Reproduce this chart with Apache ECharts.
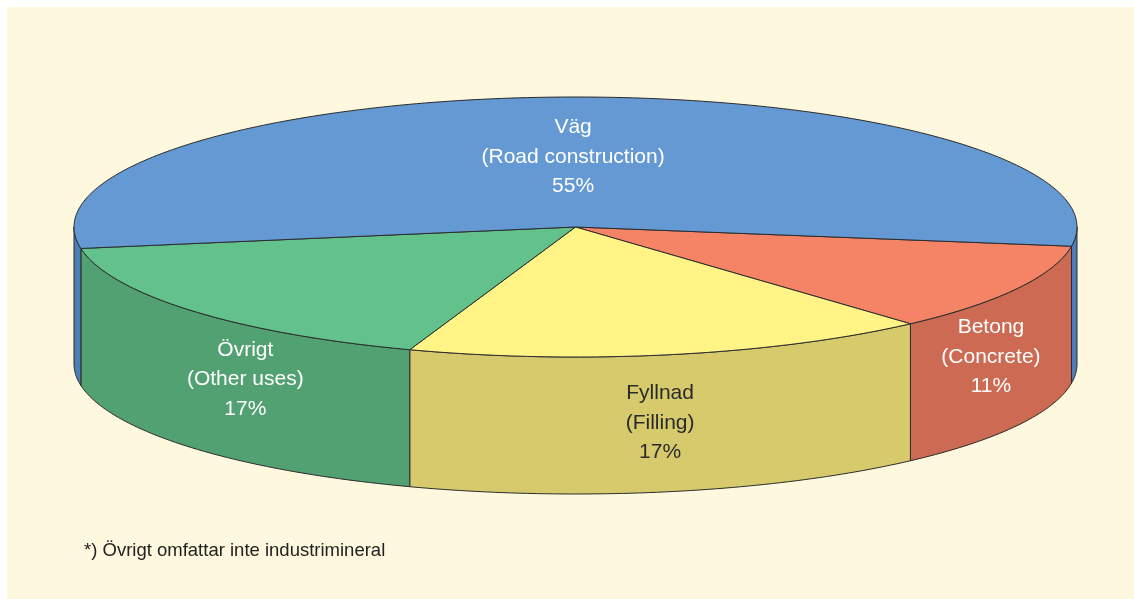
<!DOCTYPE html>
<html>
<head>
<meta charset="utf-8">
<title>Ballast - användning</title>
<script src="https://cdn.jsdelivr.net/npm/echarts@6/dist/echarts.min.js"></script>
<style>
    html, body { margin: 0; padding: 0; background: #ffffff; }
    #panel { position: absolute; left: 7px; top: 7px; right: 0; bottom: 0; background: #fef8de; }
    #main { position: absolute; left: 0; top: 0; width: 1134px; height: 599px; }
</style>
</head>
<body>
<div id="panel"></div>
<div id="main"></div>
<script type="text/javascript">
    // data, in drawing order (clockwise from just below the right edge)
    var names = ['Betong', 'Fyllnad', 'Övrigt', 'Väg'];
    var subNames = ['(Concrete)', '(Filling)', '(Other uses)', '(Road construction)'];
    var shares = [11, 17, 17, 55];
    var footnote = '*) Övrigt omfattar inte industrimineral';

    // styles
    var topColors = ['#f58466', '#fff485', '#63c28b', '#6499d3'];
    var sideColors = ['#cc6a53', '#d6ca6d', '#52a173', '#4d7fb7'];
    var labelColors = ['#ffffff', '#2a2a2a', '#ffffff', '#ffffff'];

    // geometry of the tilted disc
    var CX = 575.5, CY = 227, RX = 501.5, RY = 130, DEPTH = 137;
    var START = 8.5;

    var total = shares.reduce(function (s, v) { return s + v; }, 0);
    var slices = [];
    var acc = START;
    shares.forEach(function (v, i) {
        var span = v / total * 360;
        slices.push([acc, acc + span, v, i]);
        acc += span;
    });

    function pt(deg, dy) {
        var a = deg * Math.PI / 180;
        return [CX + RX * Math.cos(a), CY + RY * Math.sin(a) + (dy || 0)];
    }
    function arc(a, b, dy) {
        var pts = [];
        var n = Math.max(2, Math.ceil(Math.abs(b - a)));
        for (var k = 0; k <= n; k++) pts.push(pt(a + (b - a) * k / n, dy));
        return pts;
    }
    // parts of [a,b] that face the viewer (lower half of the ellipse)
    function frontParts(a, b) {
        var parts = [];
        [[0, 180], [360, 540]].forEach(function (r) {
            var s = Math.max(a, r[0]), e = Math.min(b, r[1]);
            if (e > s) parts.push([s, e]);
        });
        return parts;
    }

    function renderItem(params, api) {
        var a = api.value(0), b = api.value(1), idx = api.value(3);
        var children = [];
        var walls = frontParts(a, b);
        walls.forEach(function (w) {
            var pts = arc(w[0], w[1], 0).concat(arc(w[1], w[0], DEPTH));
            children.push({
                type: 'polygon',
                shape: { points: pts },
                style: { fill: sideColors[idx], stroke: '#2b2b2b', lineWidth: 1 }
            });
        });
        children.push({
            type: 'polygon',
            shape: { points: [[CX, CY]].concat(arc(a, b, 0)) },
            style: { fill: topColors[idx], stroke: '#2b2b2b', lineWidth: 1 }
        });

        var mid = (a + b) / 2;
        var m = mid % 360;
        var lx, ly;
        if (m > 0 && m < 180 && walls.length) {
            var w = walls[0];
            lx = (pt(w[0])[0] + pt(w[1])[0]) / 2;
            ly = CY + RY * Math.sin(m * Math.PI / 180) + DEPTH / 2;
        } else {
            var p = pt(mid);
            lx = CX + (p[0] - CX) * 0.55;
            ly = CY + (p[1] - CY) * 0.54;
        }
        children.push({
            type: 'text',
            x: lx,
            y: ly,
            z2: 10,
            style: {
                text: names[idx] + '\n' + subNames[idx] + '\n' + api.value(2) + '%',
                fill: labelColors[idx],
                font: '21px "Liberation Sans", Arial, sans-serif',
                align: 'center',
                verticalAlign: 'middle',
                lineHeight: 29.5
            }
        });
        return { type: 'group', children: children };
    }

    var myChart = echarts.init(document.getElementById('main'));
    var option = {
        animation: false,
        title: {
            text: footnote,
            left: 79,
            top: 536,
            textStyle: {
                fontFamily: '"Liberation Sans", Arial, sans-serif',
                fontSize: 18.5,
                fontWeight: 'normal',
                color: '#222222'
            }
        },
        series: [{
            type: 'custom',
            coordinateSystem: 'none',
            silent: true,
            renderItem: renderItem,
            data: slices
        }]
    };
    myChart.setOption(option);
</script>
</body>
</html>
